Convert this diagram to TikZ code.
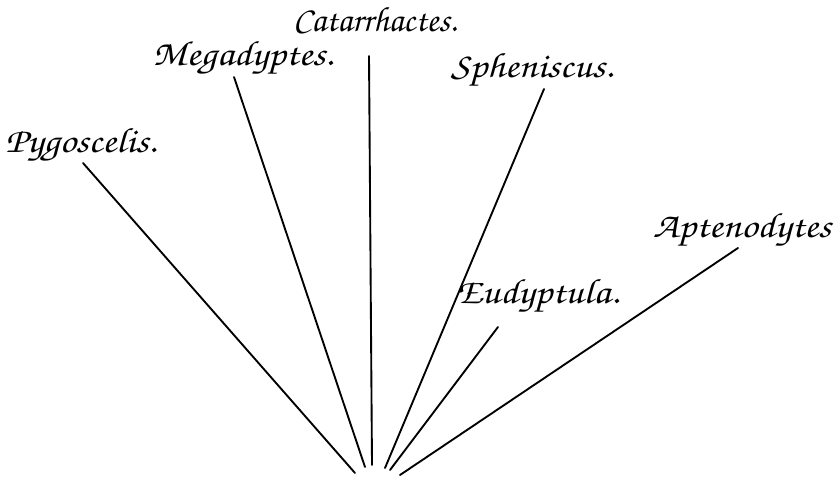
\documentclass[tikz,border=0pt]{standalone}
\usetikzlibrary{positioning}

\newcommand{\widen}[1]{\scalebox{1.15}[1]{#1}}

\begin{document}
\begin{tikzpicture}[
        x=0.3mm, y=-0.3mm,
        genus/.style={font=\usefont{T1}{pzc}{mb}{it}\fontsize{30}{34}\selectfont, inner sep=0pt, anchor=base},
        branch/.style={line width=1.6pt, line cap=round}
    ]
        \useasboundingbox (0,0) rectangle (837,477);

        % Nodes
        \node (pygo) [genus] at (81,153) {\widen{Pygoscelis.}};
        \node (mega) [genus] at (243,66) {\widen{Megadyptes.}};
        \node (cata) [genus] at (375,32) {Catarrhactes.};
        \node (sphe) [genus] at (532,78) {\widen{Spheniscus.}};
        \node (eudy) [genus] at (538,303) {\widen{Eudyptula.}};
        \node (apte) [genus] at (742,238) {\widen{Aptenodytes}};

        % Line ends
        \coordinate (pygo-top) at (83,163);
        \coordinate (mega-top) at (234,77);
        \coordinate (cata-top) at (369,56);
        \coordinate (sphe-top) at (544,89);
        \coordinate (eudy-top) at (498,327);
        \coordinate (apte-top) at (738,248);
        \coordinate (pygo-root) at (355,473);
        \coordinate (mega-root) at (365,467);
        \coordinate (cata-root) at (372,465);
        \coordinate (sphe-root) at (385,468);
        \coordinate (eudy-root) at (390,470);
        \coordinate (apte-root) at (400,475);

        % Lines
        \draw [branch] (pygo-root) -- (pygo-top);
        \draw [branch] (mega-root) -- (mega-top);
        \draw [branch] (cata-root) -- (cata-top);
        \draw [branch] (sphe-root) -- (sphe-top);
        \draw [branch] (eudy-root) -- (eudy-top);
        \draw [branch] (apte-root) -- (apte-top);
    \end{tikzpicture}
\end{document}
